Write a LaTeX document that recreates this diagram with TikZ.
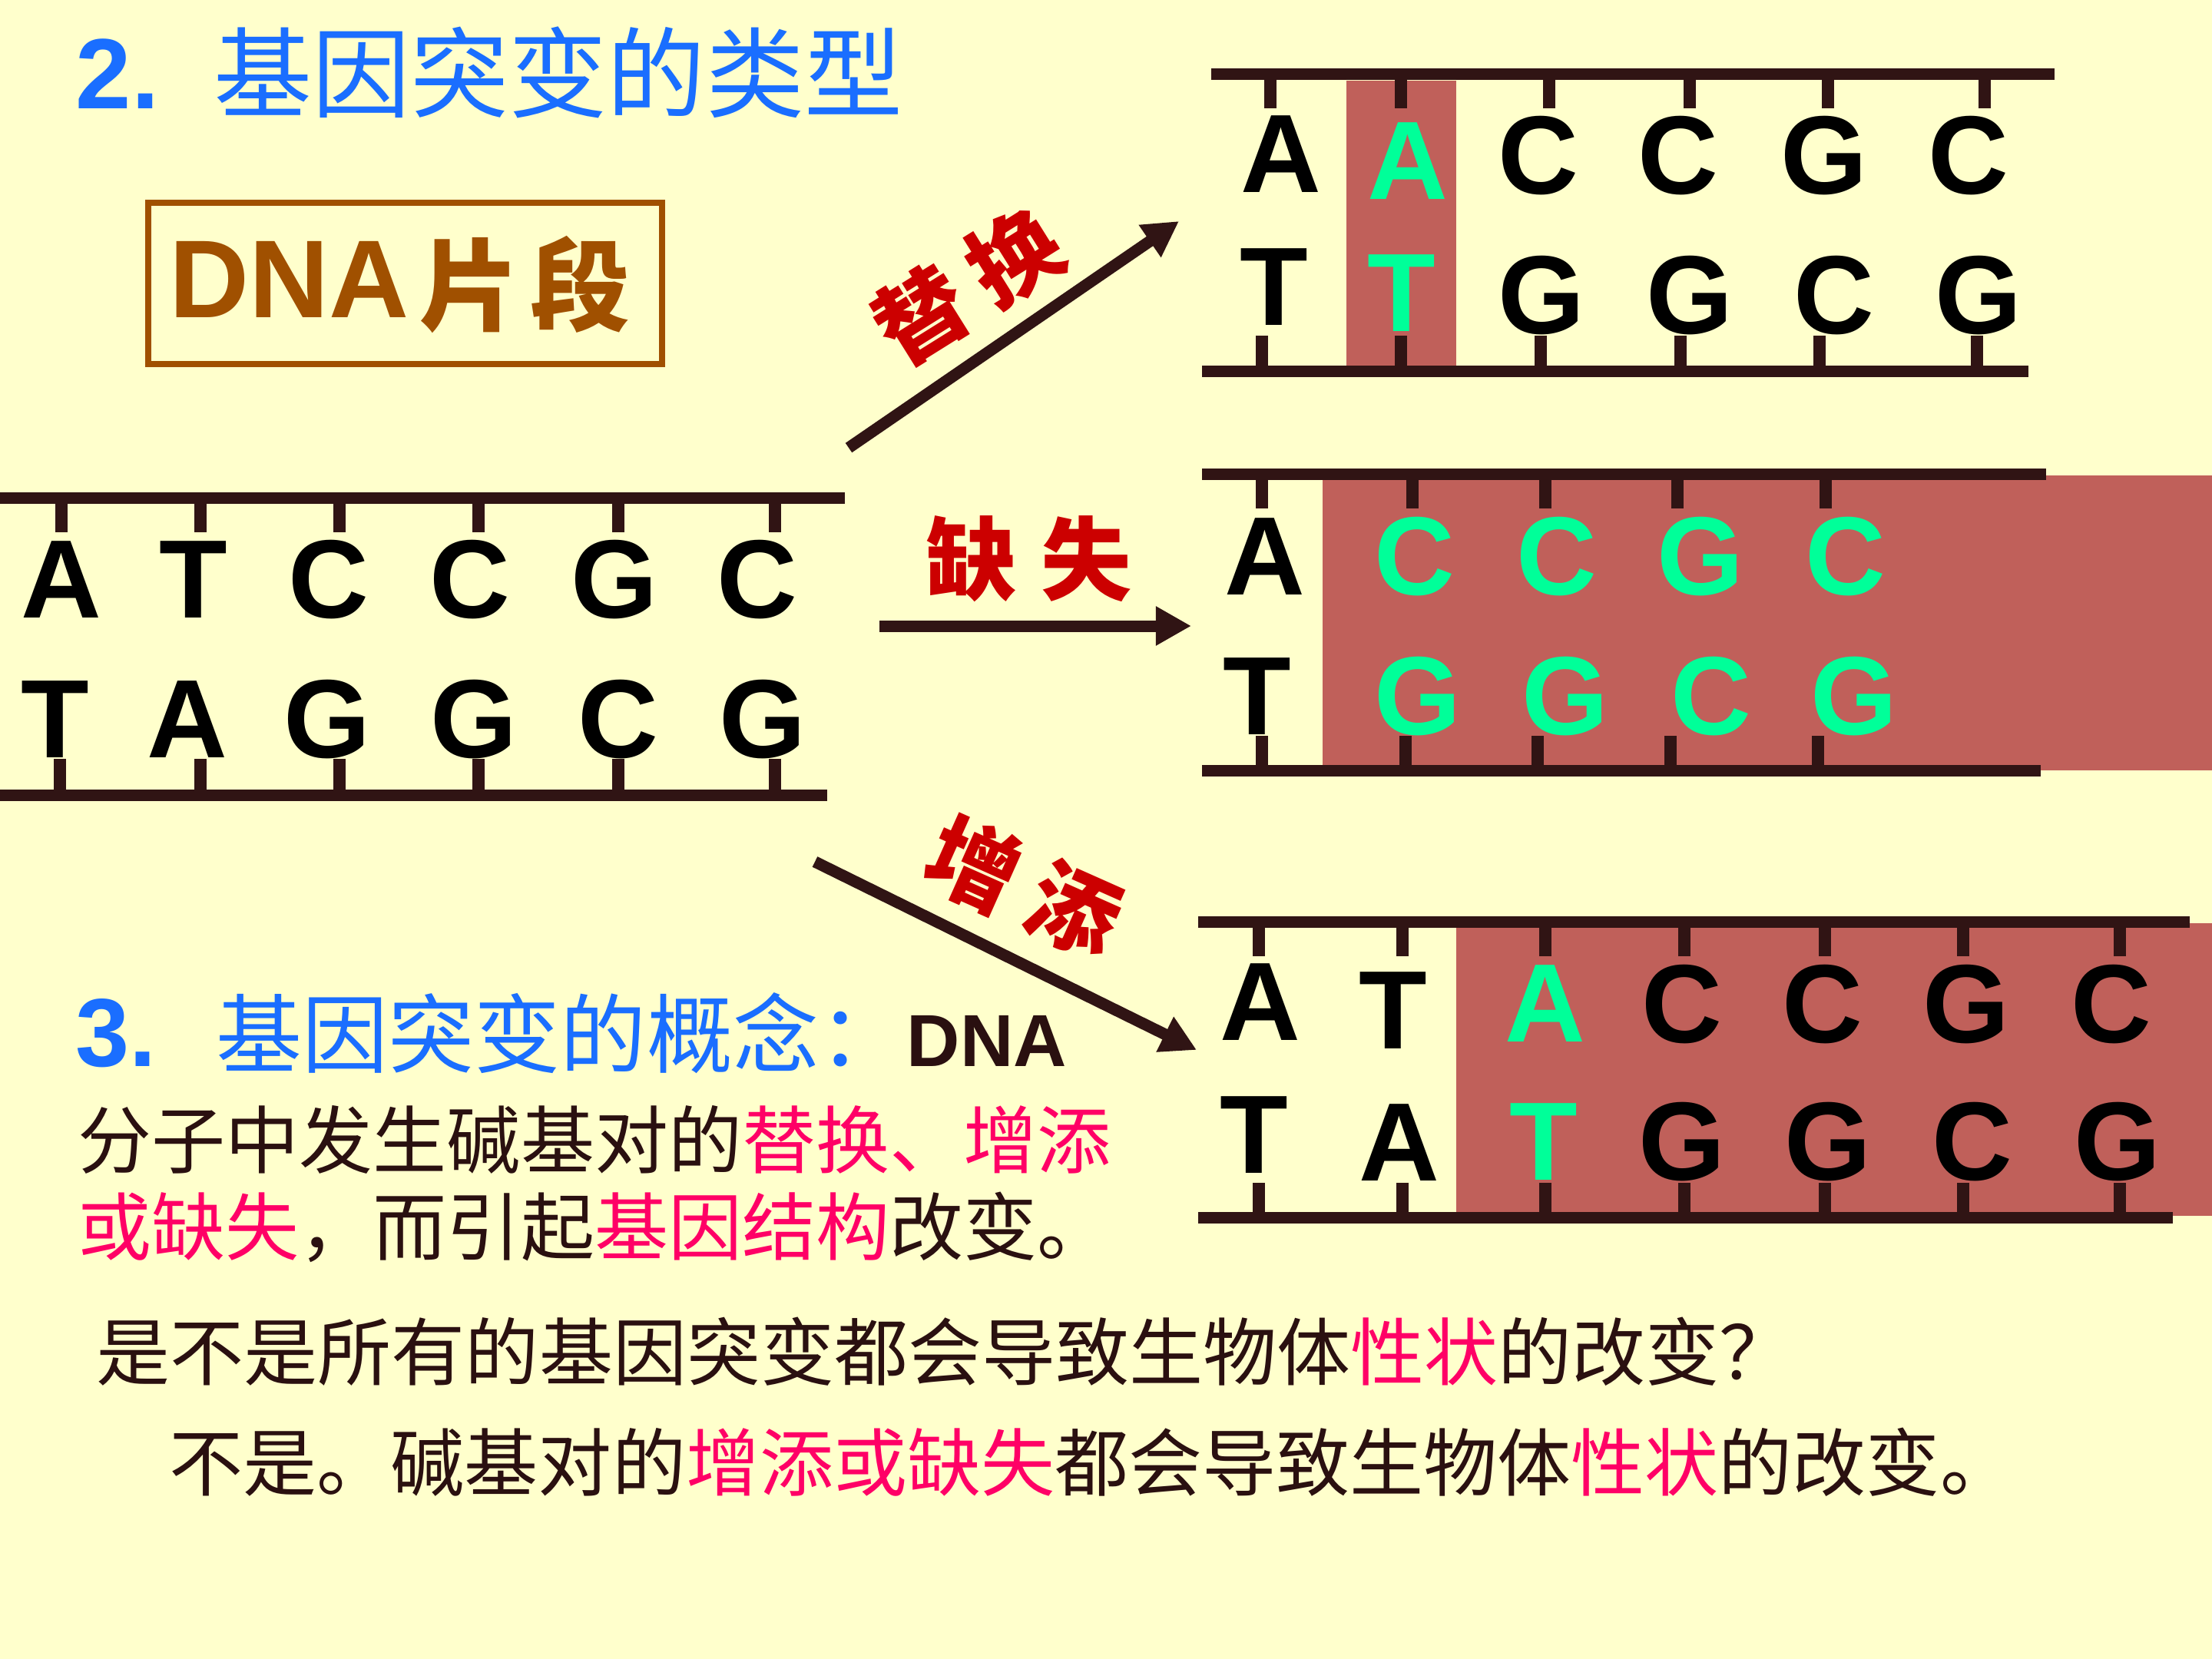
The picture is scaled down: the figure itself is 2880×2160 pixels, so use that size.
\documentclass[tikz,border=0pt]{standalone}
\usepackage{fontspec}
\setmainfont{Liberation Sans}
\newfontfamily\cjk{Noto Sans CJK SC}
\usetikzlibrary{arrows.meta}
\definecolor{bg}{HTML}{FFFFCC}
\definecolor{dk}{HTML}{301414}
\definecolor{rb}{HTML}{C0605A}
\definecolor{gn}{HTML}{00FF99}
\definecolor{bl}{HTML}{1A6EFF}
\definecolor{pk}{HTML}{FF0066}
\definecolor{lr}{HTML}{CC0000}
\definecolor{br}{HTML}{A05000}
\definecolor{tx}{HTML}{2A1010}
\newcommand\latc[1]{\raisebox{-0.358em}{#1}}
\newcommand\hanc[1]{\raisebox{-0.38em}{#1}}
\begin{document}
\begin{tikzpicture}[x=0.01cm,y=-0.01cm,
  base/.style={inner sep=0pt, anchor=base, font=\fontsize{1.45cm}{1.45cm}\selectfont\bfseries},
  lab/.style={inner sep=0pt, anchor=base, text=lr, font=\cjk\fontsize{1.18cm}{1.18cm}\selectfont\bfseries},
  body/.style={inner sep=0pt, anchor=base west, text=tx, font=\cjk\fontsize{0.96cm}{0.96cm}\selectfont},
  bar/.style={draw=dk, line width=0.15cm},
  tick/.style={draw=dk, line width=0.16cm},
  arr/.style={draw=dk, line width=0.15cm, -{Triangle[length=0.46cm,width=0.48cm]}}]
\fill[bg] (0,0) rectangle (2880,2160);
\useasboundingbox (0,0) rectangle (2880,2160);

% title
\node[inner sep=0pt, anchor=base west, text=bl, font=\fontsize{1.30cm}{1.30cm}\selectfont\bfseries] (n2) at (98,141) {2.};
\node[inner sep=0pt, anchor=base west, text=bl, font=\cjk\fontsize{1.28cm}{1.28cm}\selectfont] (t2) at (278,143) {基因突变的类型};

% DNA fragment box
\draw[br, line width=0.08cm] (193,264) rectangle (862,474);
\node[inner sep=0pt, anchor=base west, text=br, font=\fontsize{1.44cm}{1.44cm}\selectfont\bfseries] (dnab) at (220,413) {DNA};
\node[lab, text=br, font=\cjk\fontsize{1.30cm}{1.30cm}\selectfont\bfseries] (pd) at (684,371) {\hanc{片\hspace{0.14cm}段}};

% red highlight boxes
\fill[rb] (1753,105) rectangle (1896,480);
\fill[rb] (1722,619) rectangle (2880,1003);
\fill[rb] (1896,1202) rectangle (2880,1583);

% original DNA
\draw[bar] (0,648) -- (1100,648);
\draw[bar] (0,1035) -- (1077,1035);
\foreach \x in {80,261,442,623,805,1009} \draw[tick] (\x,655) -- (\x,693);
\foreach \x in {78,261,442,623,805,1009} \draw[tick] (\x,988) -- (\x,1028);
\foreach \x/\y/\lt/\cl [count=\i] in {80/753/A/black,252/753/T/black,428/753/C/black,612/753/C/black,800/753/G/black,986/753/C/black}
  \node[base, text=\cl] (oa\i) at (\x,\y) {\latc{\lt}};
\foreach \x/\y/\lt/\cl [count=\i] in {72/935/T/black,244/935/A/black,426/935/G/black,617/935/G/black,805/935/C/black,993/935/G/black}
  \node[base, text=\cl] (ob\i) at (\x,\y) {\latc{\lt}};

% substitution result
\draw[bar] (1577,96) -- (2675,96);
\draw[bar] (1565,483) -- (2641,483);
\foreach \x in {1654,1824,2017,2200,2380,2584} \draw[tick] (\x,103) -- (\x,141);
\foreach \x in {1643,1824,2006,2188,2369,2574} \draw[tick] (\x,437) -- (\x,476);
\foreach \x/\y/\lt/\cl [count=\i] in {1668/199/A/black,1833/208/A/gn,2003/201/C/black,2185/201/C/black,2375/201/G/black,2563/201/C/black}
  \node[base, text=\cl] (sa\i) at (\x,\y) {\latc{\lt}};
\foreach \x/\y/\lt/\cl [count=\i] in {1659/372/T/black,1825/380/T/gn,2007/383/G/black,2200/383/G/black,2388/383/C/black,2576/383/G/black}
  \node[base, text=\cl] (sb\i) at (\x,\y) {\latc{\lt}};

% deletion result
\draw[bar] (1565,617) -- (2664,617);
\draw[bar] (1565,1003) -- (2657,1003);
\foreach \x in {1643,1839,2012,2184,2377} \draw[tick] (\x,624) -- (\x,662);
\foreach \x in {1643,1830,2002,2175,2367} \draw[tick] (\x,958) -- (\x,996);
\foreach \x/\y/\lt/\cl [count=\i] in {1647/723/A/black,1842/723/C/gn,2027/723/C/gn,2214/723/G/gn,2403/723/C/gn}
  \node[base, text=\cl] (da\i) at (\x,\y) {\latc{\lt}};
\foreach \x/\y/\lt/\cl [count=\i] in {1637/905/T/black,1846/905/G/gn,2038/905/G/gn,2228/905/C/gn,2414/905/G/gn}
  \node[base, text=\cl] (db\i) at (\x,\y) {\latc{\lt}};

% insertion result
\draw[bar] (1560,1200) -- (2851,1200);
\draw[bar] (1560,1585) -- (2829,1585);
\foreach \x in {1639,1826,2012,2193,2376,2556,2760} \draw[tick] (\x,1207) -- (\x,1245);
\foreach \x in {1639,1826,2012,2193,2376,2556,2760} \draw[tick] (\x,1540) -- (\x,1578);
\foreach \x/\y/\lt/\cl [count=\i] in {1641/1303/A/black,1814/1314/T/black,2012/1305/A/gn,2190/1306/C/black,2373/1306/C/black,2560/1306/G/black,2749/1306/C/black}
  \node[base, text=\cl] (ia\i) at (\x,\y) {\latc{\lt}};
\foreach \x/\y/\lt/\cl [count=\i] in {1633/1476/T/black,1822/1486/A/black,2010/1485/T/gn,2190/1485/G/black,2380/1485/G/black,2568/1485/C/black,2757/1485/G/black}
  \node[base, text=\cl] (ib\i) at (\x,\y) {\latc{\lt}};

% arrows
\coordinate (s1) at (1105,583); \coordinate (e1) at (1535,288);
\coordinate (s2) at (1145,815); \coordinate (e2) at (1551,815);
\coordinate (s3) at (1061,1122); \coordinate (e3) at (1558,1367);
\draw[arr] (s1) -- (e1);
\draw[arr] (s2) -- (e2);
\draw[arr] (s3) -- (e3);

% arrow labels
\node[lab, rotate=32] (th) at (1260,372) {\hanc{替\hspace{0.26cm}换}};
\node[lab] (qs) at (1340,728) {\hanc{缺\hspace{0.32cm}失}};
\node[lab, rotate=-24] (zt) at (1333,1155) {\hanc{增\hspace{0.26cm}添}};

% concept paragraph
\node[inner sep=0pt, anchor=base west, text=bl, font=\fontsize{1.26cm}{1.26cm}\selectfont\bfseries] (n3) at (98,1388) {3.};
\node[inner sep=0pt, anchor=base west, text=bl, font=\cjk\fontsize{1.12cm}{1.12cm}\selectfont] (c3) at (281,1388) {基因突变的概念：};
\node[inner sep=0pt, anchor=base west, text=tx, font=\fontsize{0.96cm}{0.96cm}\selectfont\bfseries] (dna) at (1180,1388) {DNA};
\node[body] (p1) at (101,1520) {分子中发生碱基对的\textcolor{pk}{替换、增添}};
\node[body] (p2) at (101,1633) {\textcolor{pk}{或缺失}，而引起\textcolor{pk}{基因结构}改变。};

% question and answer
\node[body] (q1) at (125,1796) {是不是所有的基因突变都会导致生物体\textcolor{pk}{性状}的改变？};
\node[body] (q2) at (220,1940) {不是。碱基对的\textcolor{pk}{增添或缺失}都会导致生物体\textcolor{pk}{性状}的改变。};
\end{tikzpicture}
\end{document}
